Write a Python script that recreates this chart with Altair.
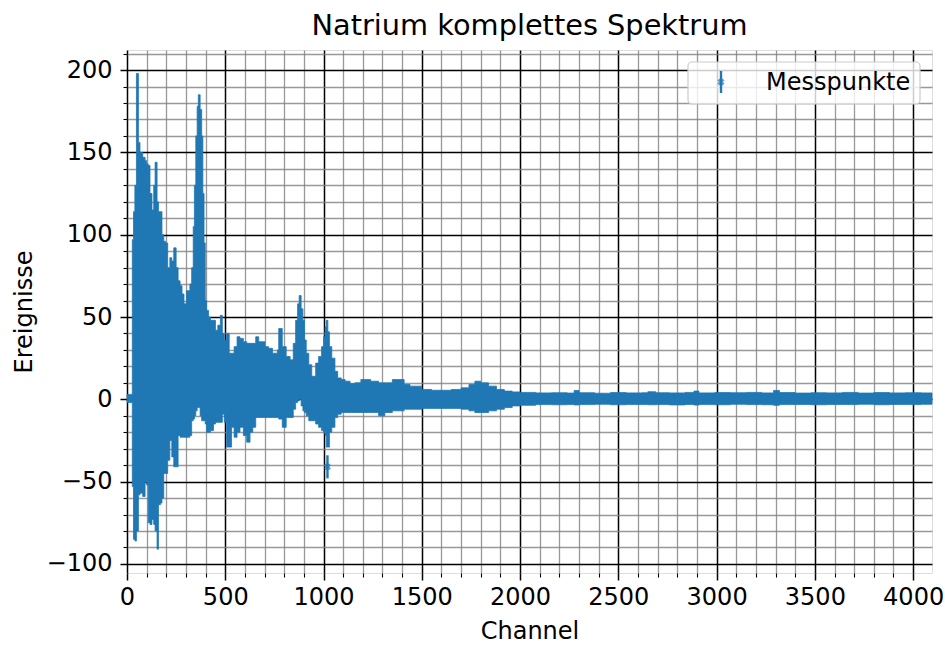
import altair as alt
import pandas as pd

# Envelope of the measured spectrum: each entry opens a channel interval that
# runs to the next entry, with the lowest and highest value reached there
# (measured counts including their error bars).
bin_start = [
    0, 27, 33, 40, 48, 58, 66, 80, 92, 100, 108, 117, 127, 136, 143, 153, 160,
    170, 178, 187, 196, 207, 218, 228, 238, 250, 260, 270, 280, 290, 303, 320,
    329, 337, 343, 350, 357, 363, 372, 380, 386, 392, 398, 405, 415, 425, 440,
    450, 462, 475, 485, 495, 507, 520, 532, 545, 560, 575, 592, 609, 626, 640,
    655, 670, 690, 702, 720, 740, 765, 772, 790, 810, 830, 846, 858, 868, 876,
    886, 895, 903, 912, 925, 940, 960, 975, 990, 1000, 1008, 1014, 1022, 1030,
    1042, 1058, 1072, 1090, 1110, 1135, 1160, 1190, 1210, 1240, 1280, 1312,
    1350, 1380, 1410, 1440, 1470, 1500, 1550, 1600, 1650, 1700, 1740, 1770,
    1800, 1840, 1880, 1920, 1960, 2000, 2080, 2160, 2240, 2275, 2300, 2380,
    2460, 2540, 2620, 2650, 2690, 2760, 2840, 2885, 2910, 2990, 3070, 3150,
    3230, 3290, 3320, 3400, 3480, 3560, 3640, 3720, 3800, 3880, 3960, 4040,
]
env_low = [
    -2, -53, -85, -86, -80, -58, -57, -59, -50, -52, -75, -76, -73, -76, -80,
    -91, -64, -63, -60, -45, -45, -37, -25, -35, -41, -41, -22, -23, -23, -23,
    -23, -22, -13, -12, -10, -7, -5, -5, -10, -13, -13, -13, -15, -20, -20,
    -19, -15, -14, -14, -14, -9, -14, -29, -29, -17, -23, -20, -17, -22, -26,
    -20, -17, -11, -11, -11, -11, -11, -11, -11, -12, -17, -11, -11, -6, -2,
    -1, 0, -4, -7, -8, -10, -13, -13, -15, -17, -19, -20, -22, -29, -29, -20,
    -17, -11, -9, -8, -8, -8, -8, -8, -8, -8, -10, -8, -7, -7, -6, -6, -6,
    -5.5, -5.5, -5.5, -5.5, -6, -7, -8, -8, -7, -6, -5, -4, -3.6, -3.2, -3.3,
    -3.1, -3.4, -3.2, -3.0, -3.3, -3.1, -3.2, -3.3, -3.2, -3.4, -3.1, -3.5,
    -3.2, -3.3, -3.0, -3.2, -3.3, -3.6, -3.2, -3.1, -3.3, -3.1, -3.2, -3.0,
    -3.3, -3.1, -3.2, -3.0,
]
env_high = [
    3, 97, 114, 130, 198, 156, 150, 147, 145, 143, 142, 125, 115, 130, 144,
    120, 114, 114, 100, 96, 95, 80, 86, 84, 92, 80, 72, 69, 64, 58, 66, 70,
    80, 105, 130, 160, 178, 185, 176, 160, 125, 95, 60, 54, 50, 48, 48, 42,
    45, 51, 40, 36, 40, 28, 28, 32, 38, 37, 35, 34, 34, 34, 38, 35, 35, 32,
    31, 28, 30, 43, 32, 26, 24, 34, 48, 58, 63, 55, 48, 36, 28, 21, 14, 22,
    26, 32, 38, 44, 48, 41, 32, 25, 17, 13, 12, 11, 9.5, 10, 12, 12, 11, 10,
    10, 12, 12, 9, 8, 8, 6, 5.5, 5.5, 6, 7, 9, 11, 10, 8, 6, 5, 4.5, 4.2, 3.9,
    4.0, 3.8, 5.4, 4.0, 3.7, 4.1, 3.9, 4.0, 4.6, 4.0, 3.9, 4.2, 5.0, 3.9, 4.1,
    4.0, 4.2, 3.9, 5.4, 4.1, 3.8, 4.0, 3.9, 4.2, 3.8, 4.1, 3.9, 4.0, 3.9,
]
last_channel = 4096

# A single point that sits apart from the band below the 1020-channel peak
outlier_channel = [1020]
outlier_value = [-41]
outlier_error = [7]

series_name = "Messpunkte"
x_ticks = list(range(0, 4001, 100))
y_ticks = list(range(-100, 211, 10))

BLUE = "#1f77b4"
FONT = "DejaVu Sans"
TEXT_SIZE = 24

# Step outline of the band: the last interval is closed at the final channel
band = pd.DataFrame({
    "channel": bin_start + [last_channel],
    "low": env_low + env_low[-1:],
    "high": env_high + env_high[-1:],
})
single = pd.DataFrame({
    "channel": outlier_channel,
    "value": outlier_value,
    "low": [v - e for v, e in zip(outlier_value, outlier_error)],
    "high": [v + e for v, e in zip(outlier_value, outlier_error)],
})

x_scale = alt.Scale(domain=[0, 4096], nice=False, zero=False)
y_scale = alt.Scale(domain=[-105.5, 212.2], nice=False, zero=False)

x_major = "datum.value % 500 === 0"
y_major = "datum.value % 50 === 0"


def axis(title, major, values, label_pad, title_pad):
    return alt.Axis(
        title=title,
        values=values,
        format="d",
        grid=True,
        gridColor={"condition": {"test": major, "value": "#000000"}, "value": "#7f7f7f"},
        gridWidth={"condition": {"test": major, "value": 1.5}, "value": 1.3},
        gridOpacity={"condition": {"test": major, "value": 1}, "value": 0.8},
        tickSize={"condition": {"test": major, "value": 7}, "value": 4},
        tickWidth={"condition": {"test": major, "value": 1.5}, "value": 1.1},
        tickColor="#000000",
        domain=False,
        labelExpr=f"{major} ? datum.label : ''",
        labelOverlap=False,
        labelFlush=False,
        labelBound=False,
        labelFont=FONT,
        labelFontSize=TEXT_SIZE,
        labelColor="#000000",
        labelPadding=label_pad,
        titleFont=FONT,
        titleFontSize=TEXT_SIZE,
        titleFontWeight="normal",
        titleColor="#000000",
        titlePadding=title_pad,
    )


x_axis = axis("Channel", x_major, x_ticks, 5, 10)
y_axis = axis("Ereignisse", y_major, y_ticks, 8, 10)

envelope = alt.Chart(band).mark_area(
    color=BLUE, interpolate="step-after", opacity=1, stroke=BLUE, strokeWidth=0.8
).encode(
    x=alt.X("channel:Q", scale=x_scale, axis=x_axis),
    y=alt.Y("low:Q", scale=y_scale, axis=y_axis),
    y2="high:Q",
)

lone_bar = alt.Chart(single).mark_rule(color=BLUE, strokeWidth=2.4).encode(
    x=alt.X("channel:Q", scale=x_scale, axis=x_axis),
    y=alt.Y("low:Q", scale=y_scale, axis=y_axis),
    y2="high:Q",
)
lone_mark = alt.Chart(single).mark_point(
    shape="cross", angle=45, filled=True, color=BLUE, size=50
).encode(
    x=alt.X("channel:Q", scale=x_scale, axis=x_axis),
    y=alt.Y("value:Q", scale=y_scale, axis=y_axis),
)

# Legend box in the upper right corner
legend_df = pd.DataFrame({"label": [series_name]})
legend_box = alt.Chart(legend_df).mark_rect(
    fill="white", fillOpacity=0.8, stroke="#cccccc", strokeWidth=1.2, cornerRadius=4
).encode(x=alt.value(561), x2=alt.value(793), y=alt.value(12), y2=alt.value(54))
legend_line = alt.Chart(legend_df).mark_rule(color=BLUE, strokeWidth=2.4).encode(
    x=alt.value(594), y=alt.value(21), y2=alt.value(43)
)
legend_cross = alt.Chart(legend_df).mark_point(
    shape="cross", angle=45, filled=True, color=BLUE, size=50
).encode(x=alt.value(594), y=alt.value(32))
legend_text = alt.Chart(legend_df).mark_text(
    align="left", baseline="middle", font=FONT, fontSize=TEXT_SIZE, color="#000000"
).encode(x=alt.value(639), y=alt.value(33), text="label:N")

chart = (
    alt.layer(envelope, lone_bar, lone_mark, legend_box, legend_line, legend_cross, legend_text)
    .properties(
        width=805,
        height=523,
        padding={"left": 127, "top": 50, "right": 13, "bottom": 72},
        autosize="none",
        title=alt.TitleParams(
            "Natrium komplettes Spektrum",
            font=FONT,
            fontSize=28.8,
            fontWeight="normal",
            color="#000000",
            anchor="middle",
            offset=1,
        ),
    )
    .configure_view(stroke="#000000", strokeWidth=1.5)
    .configure(background="white")
)

chart.save("out.html", embed_options={"renderer": "svg", "actions": False})
